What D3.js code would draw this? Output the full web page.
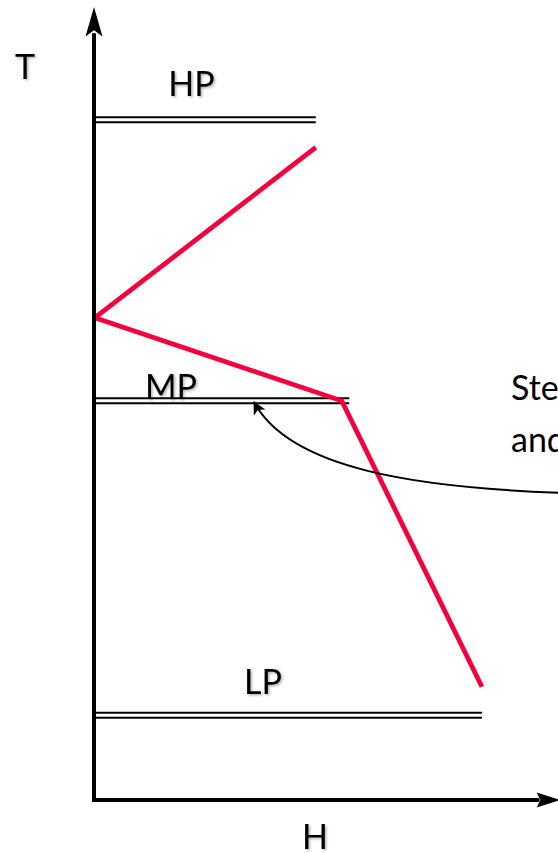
<!DOCTYPE html>
<html>
<head>
<meta charset="utf-8">
<script src="https://cdn.jsdelivr.net/npm/d3@7"></script>
<style>
    html, body { margin: 0; padding: 0; background: white; overflow: hidden; }
    svg { display: block; font-family: Lato, 'Open Sans', sans-serif; }
</style>
</head>
<body>
<svg id="chart"></svg>
<script>
'use strict';

// pressure levels: name, temperature (T) and how far the line reaches in H
const levelNames = ['HP', 'MP', 'LP'];
const levelT = [85.9, 50.4, 10.7];
const levelHEnd = [47.8, 55.0, 83.6];
const levelLabelH = [21.0, 16.6, 36.4];
const levelLabelT = [88.9, 50.6, 13.4];

// red lines (H, T)
const riseH = [0.2, 47.8];
const riseT = [60.9, 82.4];
const fallH = [0.2, 53.4, 83.6];
const fallT = [60.9, 50.4, 14.3];

const noteLines = ['Steam', 'and'];

const width = 558;
const height = 853;

const x = d3.scaleLinear().domain([0, 100]).range([94, 558]);
const y = d3.scaleLinear().domain([0, 100]).range([800, 8]);

const svg = d3.select('#chart')
    .attr('width', width)
    .attr('height', height);

const defs = svg.append('defs');
const shadow = defs.append('filter')
    .attr('id', 'shadow')
    .attr('x', '-20%').attr('y', '-20%')
    .attr('width', '140%').attr('height', '140%');
shadow.append('feDropShadow')
    .attr('dx', 1.5).attr('dy', 1.5)
    .attr('stdDeviation', 1)
    .attr('flood-color', '#000')
    .attr('flood-opacity', 0.3);

defs.append('marker')
    .attr('id', 'tip')
    .attr('viewBox', '0 -6 12 12')
    .attr('refX', 11)
    .attr('refY', 0)
    .attr('markerWidth', 13)
    .attr('markerHeight', 13)
    .attr('markerUnits', 'userSpaceOnUse')
    .attr('orient', 'auto')
    .append('path')
    .attr('fill', 'black')
    .attr('d', 'M0,-6L12,0L0,6L3,0Z');

// double lines for each pressure level
const levels = levelNames.map((name, i) => ({
    name, t: levelT[i], hEnd: levelHEnd[i], labelH: levelLabelH[i], labelT: levelLabelT[i]
}));

const lvl = svg.append('g')
    .selectAll('g')
    .data(levels)
    .join('g');

[-2.5, 2.5].forEach(off => {
    lvl.append('line')
        .attr('x1', x(0))
        .attr('x2', d => x(d.hEnd))
        .attr('y1', d => y(d.t) + off)
        .attr('y2', d => y(d.t) + off)
        .attr('stroke', 'black')
        .attr('stroke-width', 2);
});

lvl.append('text')
    .attr('x', d => x(d.labelH))
    .attr('y', d => y(d.labelT))
    .attr('text-anchor', 'middle')
    .attr('font-size', 34)
    .attr('filter', 'url(#shadow)')
    .text(d => d.name);

// red lines
const line = d3.line().x(d => x(d[0])).y(d => y(d[1]));
const red = svg.append('g')
    .attr('fill', 'none')
    .attr('stroke', '#f5003c')
    .attr('stroke-width', 4.8)
    .attr('stroke-linejoin', 'miter');
red.append('path').attr('d', line(d3.zip(riseH, riseT)));
red.append('path').attr('d', line(d3.zip(fallH, fallT)));

// axes with arrows
const axes = svg.append('g');
axes.append('line')
    .attr('x1', x(0)).attr('x2', x(0))
    .attr('y1', y(-0.25)).attr('y2', y(96.8))
    .attr('stroke', 'black').attr('stroke-width', 4);
axes.append('line')
    .attr('x1', x(-0.4)).attr('x2', x(96))
    .attr('y1', y(0)).attr('y2', y(0))
    .attr('stroke', 'black').attr('stroke-width', 4);
axes.append('path')
    .attr('fill', 'black')
    .attr('d', `M${x(0)},${y(100) - 1}L${x(0) + 8.5},${y(96.4)}L${x(0)},${y(97.2)}L${x(0) - 8.5},${y(96.4)}Z`);
axes.append('path')
    .attr('fill', 'black')
    .attr('d', `M${x(100) + 2},${y(0)}L${x(95.4)},${y(0) + 7.5}L${x(96.2)},${y(0)}L${x(95.4)},${y(0) - 7.5}Z`);

axes.append('text')
    .attr('x', 25).attr('y', 79)
    .attr('text-anchor', 'middle')
    .attr('font-size', 34)
    .attr('filter', 'url(#shadow)')
    .text('T');
axes.append('text')
    .attr('x', 315).attr('y', 849)
    .attr('text-anchor', 'middle')
    .attr('font-size', 34)
    .attr('filter', 'url(#shadow)')
    .text('H');

// note at the right edge, with the curved arrow
svg.append('g')
    .selectAll('text')
    .data(noteLines)
    .join('text')
    .attr('x', 511)
    .attr('y', (d, i) => 400 + i * 52)
    .attr('font-size', 34)
    .text(d => d);

svg.append('path')
    .attr('fill', 'none')
    .attr('stroke', 'black')
    .attr('stroke-width', 2)
    .attr('marker-end', 'url(#tip)')
    .attr('d', 'M565,493C420,488 290,470 254,402');
</script>
</body>
</html>
